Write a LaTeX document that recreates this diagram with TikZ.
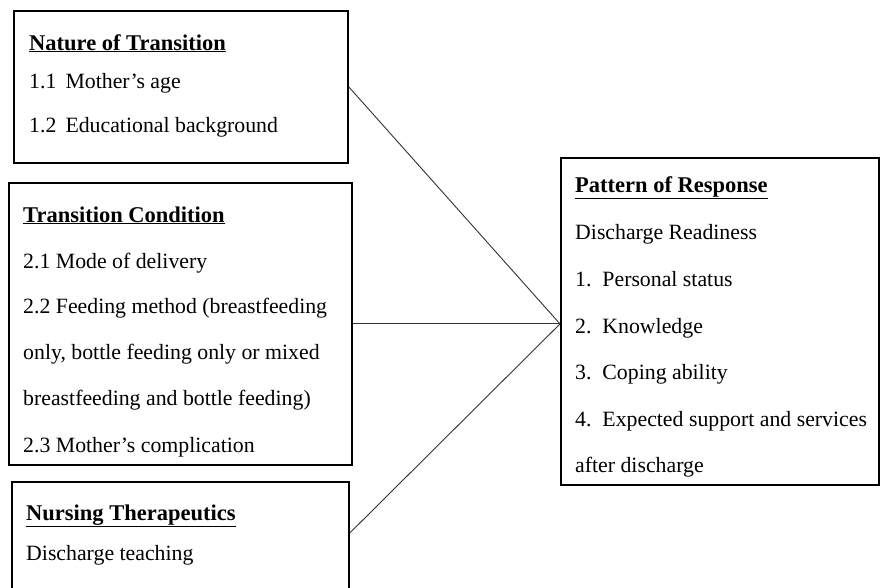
\documentclass[tikz,border=0pt]{standalone}
\usepackage{fontspec}
\setmainfont{Liberation Serif}
\begin{document}
\begin{tikzpicture}[x=1pt,y=-1pt,
  box/.style={draw=black, line width=1.8pt, anchor=north west, inner sep=0pt},
  txt/.style={anchor=base west, inner sep=0pt, font=\fontsize{21.8}{24}\selectfont},
  ttl/.style={txt, font=\fontsize{22.5}{24}\selectfont\bfseries},
  link/.style={draw=black!80, line width=0.9pt}]
\useasboundingbox (0,0) rectangle (880,587);
\fill[white] (0,0) rectangle (880,587);
% boxes
\node[box, minimum width=334pt, minimum height=152pt] (b1) at (13,10) {};
\node[box, minimum width=343pt, minimum height=282pt] (b2) at (8,182) {};
\node[box, minimum width=337pt, minimum height=130pt] (b3) at (11,481) {};
\node[box, minimum width=318pt, minimum height=327pt] (b4) at (560,157) {};
% box 1 text
\node[ttl] (t1) at (29,50) {\underline{Nature of Transition}};
\node[txt] (t11) at (29,88) {1.1\, Mother’s age};
\node[txt] (t12) at (29,132) {1.2\, Educational background};
% box 2 text
\node[ttl] (t2) at (23,222) {\underline{Transition Condition}};
\node[txt] (t21) at (23,268) {2.1 Mode of delivery};
\node[txt] (t22) at (23,313) {2.2 Feeding method (breastfeeding};
\node[txt] (t22b) at (23,359) {only, bottle feeding only or mixed};
\node[txt] (t22c) at (23,405) {breastfeeding and bottle feeding)};
\node[txt] (t23) at (23,452) {2.3 Mother’s complication};
% box 3 text
\node[ttl] (t3) at (26,520) {\underline{Nursing Therapeutics}};
\node[txt] (t31) at (26,560) {Discharge teaching};
% box 4 text
\node[ttl] (t4) at (575,192) {\underline{Pattern of Response}};
\node[txt] (t41) at (575,239) {Discharge Readiness};
\node[txt] (t42) at (575,286) {1.\ \ Personal status};
\node[txt] (t43) at (575,333) {2.\ \ Knowledge};
\node[txt] (t44) at (575,379) {3.\ \ Coping ability};
\node[txt] (t45) at (575,426) {4.\ \ Expected support and services};
\node[txt] (t46) at (575,472) {after discharge};
% connectors
\coordinate (hub) at ([yshift=-2.5pt]b4.west);
\path[link] (b1.east) -- (hub);
\path[link] (b2.east) -- (hub);
\path[link] ([yshift=-52pt]b3.north east) -- (hub);
\end{tikzpicture}
\end{document}
